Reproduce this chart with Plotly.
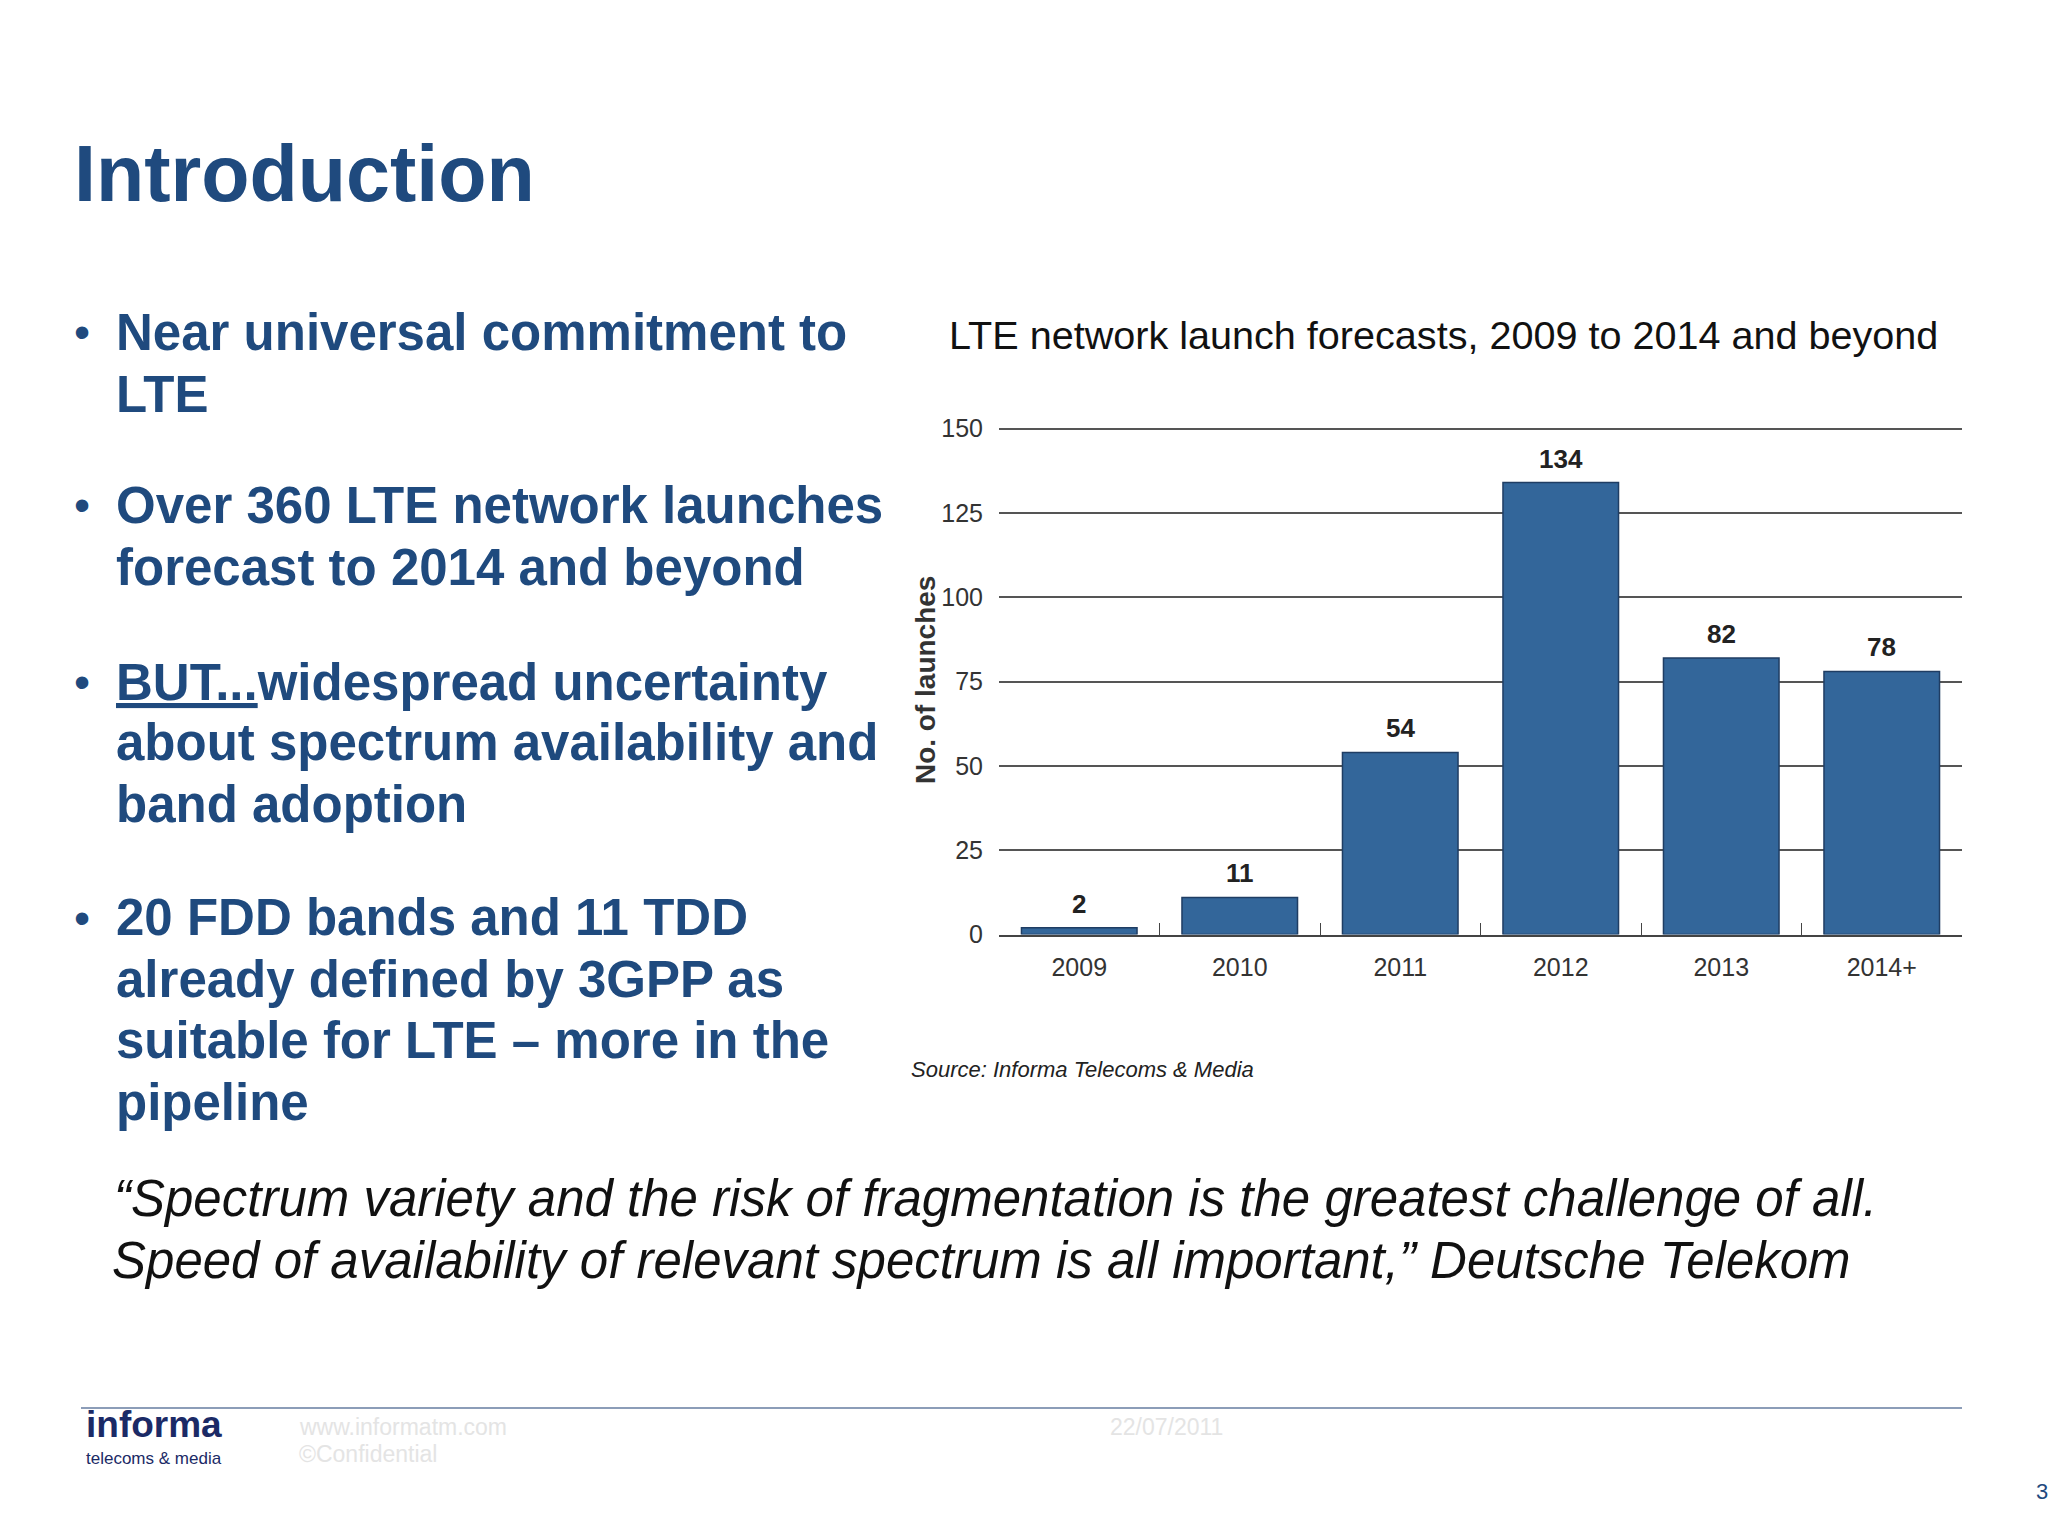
import plotly.graph_objects as go

W, H = 2048, 1536

# ---- data ----
categories = ["2009", "2010", "2011", "2012", "2013", "2014+"]
launches = [2, 11, 54, 134, 82, 78]
y_ticks = [0, 25, 50, 75, 100, 125, 150]

title_text = "Introduction"
bullet_lines = [
    ["Near universal commitment to", "LTE"],
    ["Over 360 LTE network launches", "forecast to 2014 and beyond"],
    ["<u>BUT...</u>widespread uncertainty", "about spectrum availability and", "band adoption"],
    ["20 FDD bands and 11 TDD", "already defined by 3GPP as", "suitable for LTE \u2013 more in the", "pipeline"],
]
bullet_line_y = [[325, 388], [501, 564], [681, 743, 806], [921, 984, 1046, 1109]]
chart_title = "LTE network launch forecasts, 2009 to 2014 and beyond"
source_text = "Source: Informa Telecoms & Media"
quote_lines = [
    "\u201cSpectrum variety and the risk of fragmentation is the greatest challenge of all.",
    "Speed of availability of relevant spectrum is all important,\u201d Deutsche Telekom",
]

BLUE = "#1f4a7e"
SANS = "Liberation Sans, Arial"


def px(x):
    return x / W


def py(y):
    return 1 - y / H


fig = go.Figure()
fig.add_trace(go.Bar(
    x=categories, y=launches,
    marker=dict(color="#33669a", line=dict(color="#1f3d63", width=1.5)),
    hoverinfo="skip",
))


def note(x, y, text, size, color, family=SANS, xanchor="left", **kw):
    return dict(x=px(x), y=py(y), xref="paper", yref="paper", text=text, showarrow=False,
                xanchor=xanchor, yanchor="middle", font=dict(family=family, size=size, color=color), **kw)


ann = []
# value labels above the bars (data coordinates; category index on x)
for i, v in enumerate(launches):
    ann.append(dict(x=i, y=v, xref="x", yref="y", text="<b>%d</b>" % v, showarrow=False,
                    xanchor="center", yanchor="middle", yshift=24,
                    font=dict(family=SANS, size=26, color="#222222")))
ann.append(note(72, 163, "<b>" + title_text + "</b>", 79, BLUE))
for lines, ys in zip(bullet_lines, bullet_line_y):
    ann.append(note(72, ys[0], "\u2022", 46, BLUE))
    for t, yy in zip(lines, ys):
        ann.append(note(114, yy, "<b>" + t + "</b>", 51, BLUE))
ann.append(note(947, 328, chart_title, 39.6, "#111111"))
ann.append(note(925, 679, "<b>No. of launches</b>", 28, "#333333", xanchor="center", textangle=-90))
ann.append(note(909, 1075, "<i>" + source_text + "</i>", 22, "#222222"))
for t, yy, xx in zip(quote_lines, [1207, 1270], [112, 110]):
    ann.append(note(xx, yy, "<i>" + t + "</i>", 51, "#111111"))
# footer
ann.append(note(84, 1437, "<b>informa</b>", 37, "#1b2a66"))
ann.append(note(84, 1471, "telecoms & media", 17, "#1b2a66"))
ann.append(note(297, 1439, "www.informatm.com", 23, "#e4e4e4"))
ann.append(note(297, 1467, "\u00a9Confidential", 23, "#e4e4e4"))
ann.append(note(1108, 1439, "22/07/2011", 23, "#e4e4e4"))
ann.append(note(2050, 1505, "3", 22, BLUE, xanchor="right"))

y_top = 150.4
plot_bottom, plot_top150 = 938, 423
plot_h = (plot_bottom - plot_top150) * y_top / 150

fig.update_layout(
    width=W, height=H, margin=dict(l=0, r=0, t=0, b=0),
    paper_bgcolor="white", plot_bgcolor="white",
    showlegend=False, bargap=0.28,
    annotations=ann,
    shapes=[dict(type="line", xref="paper", yref="paper", x0=px(81), x1=px(1962),
                 y0=py(1420), y1=py(1420), line=dict(color="#8c9db8", width=2))],
    xaxis=dict(domain=[px(999), px(1962)], type="category", range=[-0.5, 5.5],
               showline=True, linecolor="#444444", linewidth=2,
               tickson="boundaries", ticks="inside", ticklen=12, tickcolor="#444444", tickwidth=1.2,
               ticklabelstandoff=9,
               tickfont=dict(family=SANS, size=25, color="#333333"), showgrid=False, fixedrange=True),
    yaxis=dict(domain=[py(plot_bottom), py(plot_bottom - plot_h)], range=[0, y_top], tickvals=y_ticks,
               showgrid=True, gridcolor="#555555", gridwidth=2, zeroline=False, showline=False,
               ticks="", ticklabelstandoff=15,
               tickfont=dict(family=SANS, size=25, color="#333333"), fixedrange=True),
)

fig.write_html("out.html", config={"displayModeBar": False},
               post_script="document.body.style.margin='0';document.body.style.overflow='hidden';")
